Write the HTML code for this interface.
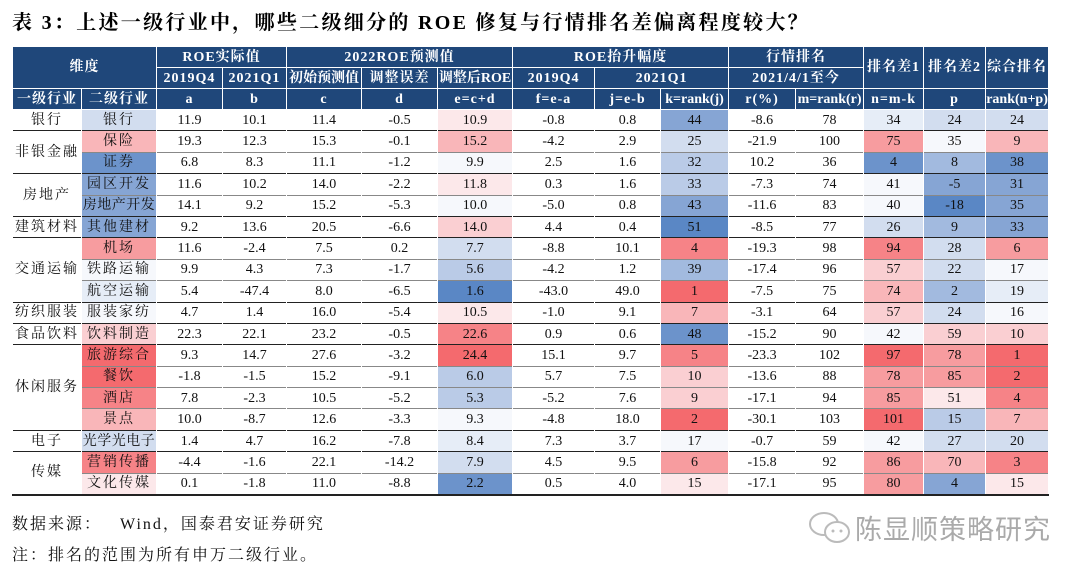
<!DOCTYPE html>
<html><head><meta charset="utf-8"><style>
body{margin:0;width:1080px;height:575px;background:#fff;position:relative;overflow:hidden;font-family:"Liberation Serif","Noto Serif CJK SC",serif;}
.title{position:absolute;left:12px;top:6px;font-size:20px;font-weight:bold;color:#000;white-space:nowrap;letter-spacing:2.3px;}
table{position:absolute;left:12px;top:46px;width:1036px;border-collapse:collapse;table-layout:fixed;font-size:14px;}
th,td{white-space:nowrap;overflow:hidden;line-height:17px;vertical-align:middle;box-sizing:border-box;}
th{background:#1f477a;color:#fff;font-weight:bold;border:1px solid #fff;padding:0;font-size:14px;letter-spacing:1px;}
th.t{letter-spacing:0;}
thead tr{height:21px;}
tbody tr{height:21.4px;}
td{padding:0;text-align:center;border-left:1px solid #fff;border-right:1px solid #fff;border-top:1px solid #888;color:#111;}
tr.g td{border-top:1.5px solid #222;}
td.l1{border-top:1.5px solid #222;letter-spacing:2px;}
td.l2{letter-spacing:2px;}
td.n{letter-spacing:0.5px;}
tbody tr:last-child td,td.lb{border-bottom:2px solid #222;}
.R1{background:#fce8ea}.R2{background:#facfd2}.R3{background:#f9b6b9}.R4{background:#f79c9f}.R5{background:#f68387}.R6{background:#f46a6e}
.B1{background:#e6edf7}.B2{background:#d2ddef}.B3{background:#bacbe7}.B4{background:#a2badf}.B5{background:#86a5d4}.B6{background:#6c93cb}.B7{background:#5a87c5}.W{background:#f6f8fc}
.foot{position:absolute;left:12px;font-size:16px;color:#111;white-space:nowrap;letter-spacing:2px;}
.wm{position:absolute;left:855px;top:508px;font-size:27px;color:#aaa;font-family:"Noto Sans CJK SC",sans-serif;letter-spacing:1px;white-space:nowrap;}
</style></head><body>
<div class="title">表 3：上述一级行业中，哪些二级细分的 ROE 修复与行情排名差偏离程度较大？</div>
<table>
<colgroup><col style="width:69px"><col style="width:75px"><col style="width:66px"><col style="width:64px"><col style="width:75px"><col style="width:76px"><col style="width:75px"><col style="width:82px"><col style="width:66px"><col style="width:68px"><col style="width:67px"><col style="width:68px"><col style="width:60px"><col style="width:62px"><col style="width:63px"></colgroup>
<thead>
<tr><th colspan="2" rowspan="2">维度</th><th colspan="2">ROE实际值</th><th colspan="3">2022ROE预测值</th><th colspan="3">ROE抬升幅度</th><th colspan="2">行情排名</th><th rowspan="2">排名差1</th><th rowspan="2">排名差2</th><th rowspan="2">综合排名</th></tr>
<tr><th>2019Q4</th><th>2021Q1</th><th class="t">初始预测值</th><th>调整误差</th><th class="t">调整后ROE</th><th>2019Q4</th><th colspan="2">2021Q1</th><th colspan="2">2021/4/1至今</th></tr>
<tr><th>一级行业</th><th>二级行业</th><th>a</th><th>b</th><th>c</th><th>d</th><th>e=c+d</th><th>f=e-a</th><th>j=e-b</th><th class="t">k=rank(j)</th><th>r(%)</th><th class="t">m=rank(r)</th><th>n=m-k</th><th>p</th><th class="t">rank(n+p)</th></tr>
</thead>
<tbody>
<tr class="g"><td class="l1">银行</td><td class="l2 B2">银行</td><td>11.9</td><td>10.1</td><td>11.4</td><td>-0.5</td><td class="R1">10.9</td><td>-0.8</td><td>0.8</td><td class="B5">44</td><td>-8.6</td><td>78</td><td class="B1">34</td><td class="B2">24</td><td class="B2">24</td></tr>
<tr class="g"><td class="l1" rowspan="2">非银金融</td><td class="l2 R3">保险</td><td>19.3</td><td>12.3</td><td>15.3</td><td>-0.1</td><td class="R3">15.2</td><td>-4.2</td><td>2.9</td><td class="B2">25</td><td>-21.9</td><td>100</td><td class="R4">75</td><td class="W">35</td><td class="R3">9</td></tr>
<tr><td class="l2 B6">证券</td><td>6.8</td><td>8.3</td><td>11.1</td><td>-1.2</td><td class="W">9.9</td><td>2.5</td><td>1.6</td><td class="B3">32</td><td>10.2</td><td>36</td><td class="B6">4</td><td class="B4">8</td><td class="B6">38</td></tr>
<tr class="g"><td class="l1" rowspan="2">房地产</td><td class="l2 B5">园区开发</td><td>11.6</td><td>10.2</td><td>14.0</td><td>-2.2</td><td class="R1">11.8</td><td>0.3</td><td>1.6</td><td class="B3">33</td><td>-7.3</td><td>74</td><td class="W">41</td><td class="B5">-5</td><td class="B5">31</td></tr>
<tr><td class="l2 n B5">房地产开发</td><td>14.1</td><td>9.2</td><td>15.2</td><td>-5.3</td><td class="W">10.0</td><td>-5.0</td><td>0.8</td><td class="B5">43</td><td>-11.6</td><td>83</td><td class="W">40</td><td class="B7">-18</td><td class="B5">35</td></tr>
<tr class="g"><td class="l1">建筑材料</td><td class="l2 B5">其他建材</td><td>9.2</td><td>13.6</td><td>20.5</td><td>-6.6</td><td class="R2">14.0</td><td>4.4</td><td>0.4</td><td class="B7">51</td><td>-8.5</td><td>77</td><td class="B2">26</td><td class="B4">9</td><td class="B5">33</td></tr>
<tr class="g"><td class="l1" rowspan="3">交通运输</td><td class="l2 R4">机场</td><td>11.6</td><td>-2.4</td><td>7.5</td><td>0.2</td><td class="B2">7.7</td><td>-8.8</td><td>10.1</td><td class="R5">4</td><td>-19.3</td><td>98</td><td class="R5">94</td><td class="B2">28</td><td class="R4">6</td></tr>
<tr><td class="l2 W">铁路运输</td><td>9.9</td><td>4.3</td><td>7.3</td><td>-1.7</td><td class="B3">5.6</td><td>-4.2</td><td>1.2</td><td class="B4">39</td><td>-17.4</td><td>96</td><td class="R2">57</td><td class="B2">22</td><td class="W">17</td></tr>
<tr><td class="l2 B1">航空运输</td><td>5.4</td><td>-47.4</td><td>8.0</td><td>-6.5</td><td class="B7">1.6</td><td>-43.0</td><td>49.0</td><td class="R6">1</td><td>-7.5</td><td>75</td><td class="R3">74</td><td class="B4">2</td><td class="B1">19</td></tr>
<tr class="g"><td class="l1">纺织服装</td><td class="l2 W">服装家纺</td><td>4.7</td><td>1.4</td><td>16.0</td><td>-5.4</td><td class="R1">10.5</td><td>-1.0</td><td>9.1</td><td class="R3">7</td><td>-3.1</td><td>64</td><td class="R2">57</td><td class="B2">24</td><td class="W">16</td></tr>
<tr class="g"><td class="l1">食品饮料</td><td class="l2 R2">饮料制造</td><td>22.3</td><td>22.1</td><td>23.2</td><td>-0.5</td><td class="R5">22.6</td><td>0.9</td><td>0.6</td><td class="B6">48</td><td>-15.2</td><td>90</td><td class="W">42</td><td class="R2">59</td><td class="R2">10</td></tr>
<tr class="g"><td class="l1" rowspan="4">休闲服务</td><td class="l2 R6">旅游综合</td><td>9.3</td><td>14.7</td><td>27.6</td><td>-3.2</td><td class="R6">24.4</td><td>15.1</td><td>9.7</td><td class="R5">5</td><td>-23.3</td><td>102</td><td class="R6">97</td><td class="R4">78</td><td class="R6">1</td></tr>
<tr><td class="l2 R6">餐饮</td><td>-1.8</td><td>-1.5</td><td>15.2</td><td>-9.1</td><td class="B3">6.0</td><td>5.7</td><td>7.5</td><td class="R2">10</td><td>-13.6</td><td>88</td><td class="R4">78</td><td class="R4">85</td><td class="R6">2</td></tr>
<tr><td class="l2 R5">酒店</td><td>7.8</td><td>-2.3</td><td>10.5</td><td>-5.2</td><td class="B3">5.3</td><td>-5.2</td><td>7.6</td><td class="R2">9</td><td>-17.1</td><td>94</td><td class="R4">85</td><td class="R1">51</td><td class="R5">4</td></tr>
<tr><td class="l2 R3">景点</td><td>10.0</td><td>-8.7</td><td>12.6</td><td>-3.3</td><td class="W">9.3</td><td>-4.8</td><td>18.0</td><td class="R6">2</td><td>-30.1</td><td>103</td><td class="R6">101</td><td class="B3">15</td><td class="R3">7</td></tr>
<tr class="g"><td class="l1">电子</td><td class="l2 n B2">光学光电子</td><td>1.4</td><td>4.7</td><td>16.2</td><td>-7.8</td><td class="B1">8.4</td><td>7.3</td><td>3.7</td><td class="W">17</td><td>-0.7</td><td>59</td><td class="W">42</td><td class="B2">27</td><td class="B2">20</td></tr>
<tr class="g"><td class="l1 lb" rowspan="2">传媒</td><td class="l2 R5">营销传播</td><td>-4.4</td><td>-1.6</td><td>22.1</td><td>-14.2</td><td class="B2">7.9</td><td>4.5</td><td>9.5</td><td class="R4">6</td><td>-15.8</td><td>92</td><td class="R4">86</td><td class="R3">70</td><td class="R5">3</td></tr>
<tr><td class="l2 R1">文化传媒</td><td>0.1</td><td>-1.8</td><td>11.0</td><td>-8.8</td><td class="B6">2.2</td><td>0.5</td><td>4.0</td><td class="R1">15</td><td>-17.1</td><td>95</td><td class="R4">80</td><td class="B5">4</td><td class="R1">15</td></tr>
</tbody>
</table>
<div class="foot" style="top:511px;">数据来源：&nbsp;&nbsp;&nbsp;Wind，国泰君安证券研究</div>
<div class="foot" style="top:542px;">注：排名的范围为所有申万二级行业。</div>
<svg style="position:absolute;left:806px;top:508px" width="50" height="40"><ellipse cx="18" cy="16" rx="14" ry="11" fill="none" stroke="#bbb" stroke-width="2"/><ellipse cx="31" cy="24" rx="12" ry="10" fill="#fff" stroke="#bbb" stroke-width="2"/><circle cx="27" cy="23" r="1.5" fill="#bbb"/><circle cx="35" cy="23" r="1.5" fill="#bbb"/></svg>
<div class="wm">陈显顺策略研究</div>
</body></html>
